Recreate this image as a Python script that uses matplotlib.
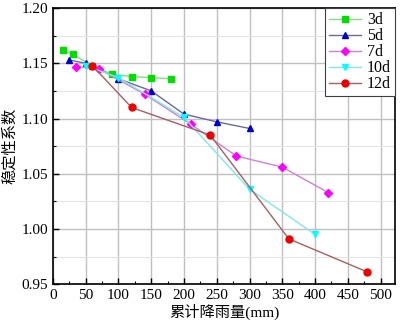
"""Stability coefficient vs cumulative rainfall for several rainfall durations."""

import matplotlib

matplotlib.use("Agg")
import matplotlib.pyplot as plt
from matplotlib.ticker import FormatStrFormatter, MultipleLocator

plt.rcParams["font.family"] = ["Liberation Serif", "Noto Sans CJK SC"]

labels = ["3d", "5d", "7d", "10d", "12d"]

rain_3d = [15, 30, 60, 90, 120, 150, 180]
fs_3d = [1.162, 1.158, 1.148, 1.140, 1.138, 1.137, 1.136]

rain_5d = [25, 50, 100, 150, 200, 250, 300]
fs_5d = [1.153, 1.150, 1.136, 1.125, 1.104, 1.097, 1.091]

rain_7d = [35, 70, 140, 210, 280, 350, 420]
fs_7d = [1.147, 1.145, 1.122, 1.095, 1.066, 1.056, 1.033]

rain_10d = [50, 100, 200, 300, 400]
fs_10d = [1.148, 1.137, 1.101, 1.036, 0.995]

rain_12d = [60, 120, 240, 360, 480]
fs_12d = [1.148, 1.110, 1.085, 0.991, 0.961]

series = [
    (rain_3d, fs_3d, "s", "#00e000", "#80e080"),
    (rain_5d, fs_5d, "^", "#0000d0", "#6868a8"),
    (rain_7d, fs_7d, "D", "#ff00ff", "#d080d8"),
    (rain_10d, fs_10d, "v", "#00ffff", "#80e8e8"),
    (rain_12d, fs_12d, "o", "#ee0000", "#a86060"),
]

fig = plt.figure(figsize=(4.01, 3.24), dpi=100)
ax = fig.add_axes([0.132, 0.123, 0.853, 0.852])

for (xs, ys, marker, mcolor, lcolor), label in zip(series, labels):
    ms = 4.2 if marker == "D" else 5.0
    ax.plot(xs, ys, color=lcolor, linewidth=1.0, marker=marker, markersize=ms,
            markerfacecolor=mcolor, markeredgecolor=mcolor, label=label)

ax.set_xlim(0, 522)
ax.set_ylim(0.95, 1.20)
ax.xaxis.set_major_locator(MultipleLocator(50))
ax.xaxis.set_minor_locator(MultipleLocator(25))
ax.yaxis.set_major_locator(MultipleLocator(0.05))
ax.yaxis.set_minor_locator(MultipleLocator(0.025))
ax.yaxis.set_major_formatter(FormatStrFormatter("%.2f"))

ax.grid(True, which="major", color="#c0c0c0", linewidth=1.0)
ax.grid(True, which="minor", axis="y", color="#e4e4e4", linewidth=0.8)
ax.set_axisbelow(True)

ax.tick_params(which="both", direction="in", labelsize=11, top=False, right=False)
ax.tick_params(which="major", length=4, width=1.0)
ax.tick_params(which="minor", length=2.5, width=0.8)
for spine in ax.spines.values():
    spine.set_linewidth(1.2)

ax.set_xlabel("累计降雨量(mm)", fontsize=11, labelpad=1)
ax.set_ylabel("稳定性系数", fontsize=11, labelpad=3)

leg = ax.legend(loc="upper right", fontsize=11.5, fancybox=False, framealpha=1,
                edgecolor="#404040", borderaxespad=0, handlelength=2.0,
                labelspacing=0.0, borderpad=0.25, handletextpad=0.4)
leg.get_frame().set_linewidth(0.8)

fig.savefig("out.png", dpi=100)
